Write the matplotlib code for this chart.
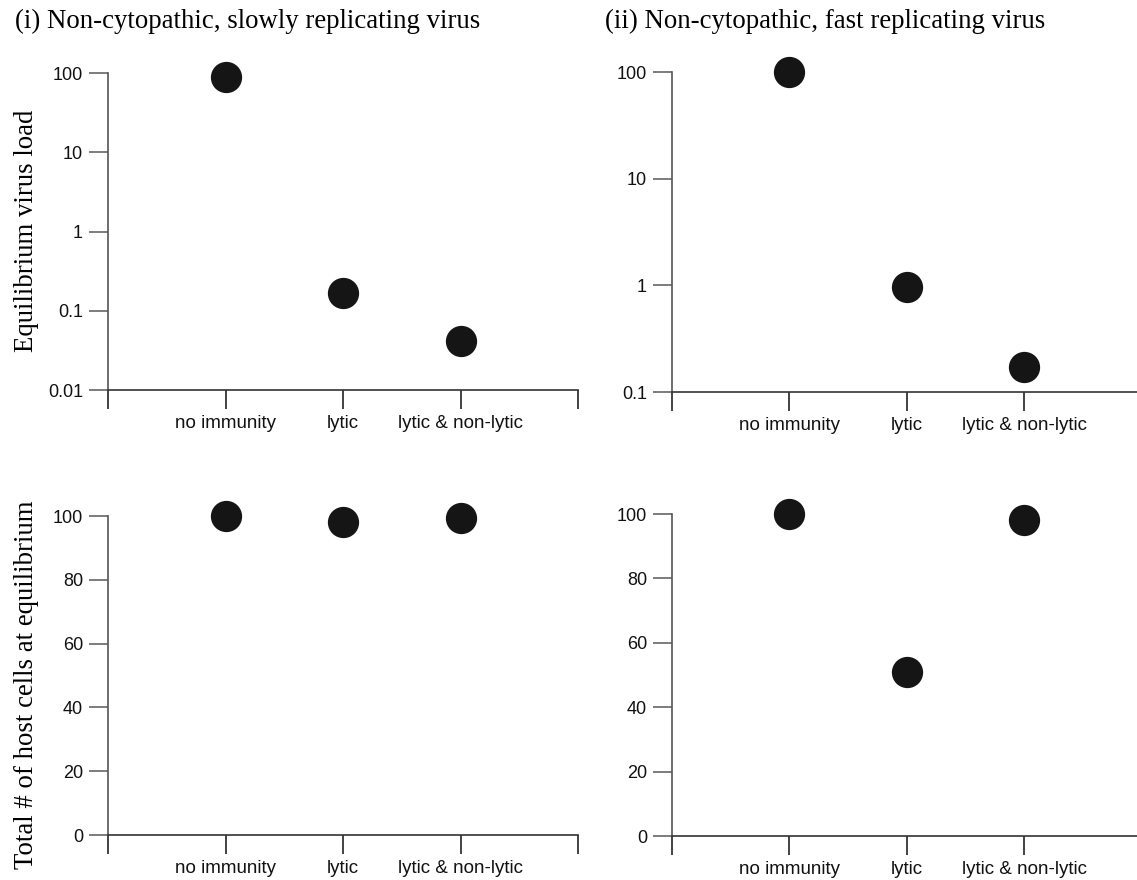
import numpy as np
import matplotlib
matplotlib.use('Agg')
import matplotlib.pyplot as plt
from matplotlib.ticker import FixedLocator, FixedFormatter, NullLocator

# categories / values
categories = ['no immunity', 'lytic', 'lytic & non-lytic']
slow_virus_load = [90, 0.17, 0.042]
fast_virus_load = [100, 0.96, 0.17]
slow_host_cells = [100, 98, 99.5]
fast_host_cells = [100, 51, 98]

titles = ['(i) Non-cytopathic, slowly replicating virus',
          '(ii) Non-cytopathic, fast replicating virus']
ylabels = ['Equilibrium virus load', 'Total # of host cells at equilibrium']

plt.rcParams['font.family'] = ['Liberation Sans', 'DejaVu Sans']

fig = plt.figure(figsize=(11.37, 8.8), dpi=100)

w = 0.4134
ax1 = fig.add_axes([0.095, 0.5568, w, 0.3602])
ax2 = fig.add_axes([0.591, 0.5545, w, 0.3636])
ax3 = fig.add_axes([0.095, 0.0511, w, 0.3625])
ax4 = fig.add_axes([0.591, 0.0500, w, 0.3659])

xpos = np.arange(1, len(categories) + 1)

def style(ax, ylim, yticks, ylog=False):
    if ylog:
        ax.set_yscale('log')
    ax.set_xlim(0, 4)
    ax.set_ylim(*ylim)
    for s in ['top', 'right']:
        ax.spines[s].set_visible(False)
    ax.spines['left'].set_color('#555555')
    ax.spines['left'].set_linewidth(1.2)
    ax.spines['bottom'].set_color('#333333')
    ax.spines['bottom'].set_linewidth(1.2)
    ax.xaxis.set_major_locator(FixedLocator([0, 1, 2, 3, 4]))
    ax.xaxis.set_major_formatter(FixedFormatter([''] + categories + ['']))
    ax.xaxis.set_minor_locator(NullLocator())
    ax.yaxis.set_major_locator(FixedLocator(yticks))
    ax.yaxis.set_major_formatter(FixedFormatter([('%g' % t) for t in yticks]))
    ax.yaxis.set_minor_locator(NullLocator())
    ax.tick_params(axis='x', direction='out', length=14, width=1.2, color='#222222',
                   labelsize=13.5, pad=4, labelcolor='#111111')
    ax.tick_params(axis='y', direction='out', length=14, width=1.2, color='#666666',
                   labelsize=13, pad=4, labelcolor='#111111')
    ax.patch.set_visible(False)

def dots(ax, vals):
    ax.plot(xpos, vals, 'o', ms=21.5, color='#151515', clip_on=False, zorder=5)

dots(ax1, slow_virus_load)
style(ax1, (0.01, 100), [0.01, 0.1, 1, 10, 100], ylog=True)
dots(ax2, fast_virus_load)
style(ax2, (0.1, 100), [0.1, 1, 10, 100], ylog=True)
dots(ax3, slow_host_cells)
style(ax3, (0, 100), [0, 20, 40, 60, 80, 100])
dots(ax4, fast_host_cells)
style(ax4, (0, 100), [0, 20, 40, 60, 80, 100])

serif = ['Liberation Serif', 'DejaVu Serif']
fig.text(0.013, 0.968, titles[0], family=serif, fontsize=19.3, va='baseline', ha='left')
fig.text(0.532, 0.968, titles[1], family=serif, fontsize=19.3, va='baseline', ha='left')
fig.text(0.023, 0.738, ylabels[0], family=serif, fontsize=19.3, rotation=90,
         ha='center', va='center')
fig.text(0.023, 0.222, ylabels[1], family=serif, fontsize=19.3, rotation=90,
         ha='center', va='center')

fig.savefig('out.png', dpi=100)
